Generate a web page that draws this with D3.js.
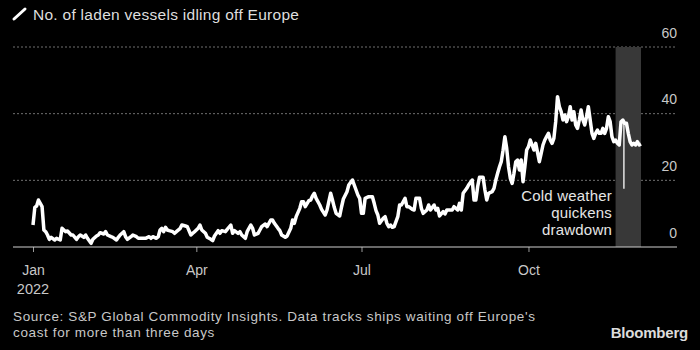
<!DOCTYPE html>
<html>
<head>
<meta charset="utf-8">
<script src="https://cdn.jsdelivr.net/npm/d3@7"></script>
<style>
  body { margin: 0; background: #000; }
  text { font-family: "Liberation Sans Narrow", "Liberation Sans", sans-serif; }
  .num { font-family: "Liberation Sans", Arial, sans-serif; }
</style>
</head>
<body>
<div id="chart"></div>
<script>
// laden lng vessels idling off europe

// days since jan 1 2022
var days = [0, 1, 2, 3, 5, 6, 7, 8, 9, 10, 12, 13, 15, 16, 17, 18, 19, 21, 22, 24, 25, 26, 28, 29, 30, 32, 33, 35, 36, 37, 39, 40, 41, 43, 44, 46, 47, 48, 50, 51, 52, 54, 55, 57, 58, 59, 61, 62, 64, 65, 66, 68, 69, 70, 71, 72, 73, 74, 75, 77, 78, 79, 81, 82, 84, 85, 87, 88, 89, 91, 92, 93, 95, 96, 98, 99, 100, 102, 103, 104, 106, 107, 109, 110, 111, 113, 114, 115, 117, 118, 120, 121, 122, 124, 125, 126, 128, 129, 131, 132, 133, 135, 136, 137, 139, 140, 142, 143, 144, 145, 147, 148, 149, 150, 152, 153, 154, 155, 156, 158, 159, 161, 162, 163, 164, 165, 166, 167, 169, 170, 171, 173, 174, 176, 177, 178, 179, 180, 181, 182, 183, 185, 187, 188, 189, 190, 191, 193, 194, 195, 196, 197, 198, 199, 201, 202, 203, 205, 206, 207, 209, 210, 211, 213, 214, 215, 217, 218, 219, 221, 222, 223, 224, 226, 227, 228, 230, 231, 232, 234, 235, 236, 237, 239, 240, 242, 243, 244, 245, 246, 248, 249, 250, 251, 253, 254, 255, 256, 257, 258, 259, 260, 261, 262, 263, 264, 265, 266, 267, 268, 269, 270, 271, 272, 273, 274, 275, 276, 277, 279, 280, 281, 282, 283, 284, 285, 286, 287, 288, 289, 290, 291, 292, 293, 294, 295, 296, 297, 298, 299, 300, 301, 302, 303, 304, 305, 306, 307, 308, 309, 310, 311, 312, 313, 314, 315, 316, 317, 318, 319, 320, 321, 322, 323, 324, 325, 326, 327, 328, 329, 330, 331, 332, 333, 334, 335];

// number of vessels
var vessels = [6.6, 11.9, 12.3, 14.1, 12.1, 5.1, 4.6, 3.6, 2.3, 2.9, 2.1, 2.6, 2.1, 5.6, 5.1, 4.6, 4.8, 3.6, 3.6, 2.3, 3.1, 3.6, 2.9, 3.6, 2.6, 1.1, 2.3, 3.3, 3.6, 4.3, 3.9, 4.6, 3.6, 3.1, 2.9, 2.1, 2.9, 3.6, 4.6, 3.1, 2.3, 3.1, 3.6, 3.1, 2.6, 2.6, 2.6, 2.6, 3.1, 2.6, 3.1, 2.6, 3.1, 5.1, 5.6, 4.6, 5.9, 5.1, 4.9, 4.6, 4.1, 4.6, 5.5, 6.6, 6.3, 6.1, 3.6, 4.1, 4.6, 5.6, 6.6, 5.1, 4.1, 2.9, 2.3, 1.9, 3.3, 4.9, 4.1, 4.9, 4.6, 5.3, 6.6, 4.1, 4.9, 4.1, 4.6, 3.6, 2.6, 4.6, 6.6, 5.6, 3.6, 4.1, 5.1, 6.1, 6.9, 6.1, 8.1, 8.1, 7.1, 5.6, 4.9, 3.6, 2.9, 3.3, 5.6, 8.1, 7.1, 9.1, 11.6, 13.6, 13.6, 12.1, 13.9, 14.1, 15.3, 16.1, 14.6, 12.6, 11.3, 9.6, 11.1, 13.6, 16.1, 14.1, 11.9, 10.1, 9.3, 12.0, 14.4, 16.6, 18.6, 20.1, 18.6, 17.1, 15.6, 14.6, 10.1, 10.1, 14.6, 15.1, 15.1, 13.1, 10.9, 9.6, 7.1, 8.6, 9.1, 7.1, 6.1, 6.6, 5.9, 6.1, 9.1, 12.6, 12.6, 14.6, 12.1, 12.1, 11.3, 11.1, 14.6, 14.6, 11.6, 10.1, 11.1, 12.6, 11.1, 12.6, 11.1, 11.6, 9.3, 10.6, 9.9, 11.1, 11.1, 11.1, 12.1, 11.1, 13.1, 11.1, 16.1, 17.6, 18.6, 20.1, 14.1, 14.1, 18.1, 20.9, 20.9, 17.1, 14.1, 16.1, 16.6, 17.6, 20.1, 22.1, 24.0, 25.6, 29.0, 33.1, 29.6, 24.1, 20.6, 19.1, 22.1, 25.6, 26.1, 23.1, 26.1, 19.6, 24.1, 29.1, 30.1, 32.1, 30.6, 29.1, 31.1, 25.6, 28.1, 30.6, 32.1, 33.1, 34.1, 32.1, 31.1, 32.6, 37.6, 45.1, 42.1, 40.6, 38.1, 39.6, 37.6, 39.1, 42.1, 38.1, 40.6, 36.6, 35.6, 38.1, 41.1, 38.1, 36.6, 39.1, 42.1, 38.1, 34.1, 32.6, 34.1, 35.1, 34.1, 34.1, 35.6, 34.1, 35.6, 39.1, 37.6, 33.1, 31.6, 32.1, 31.1, 30.6, 37.6, 38.1, 37.1, 37.1, 34.1, 31.6, 30.6, 31.1, 30.6, 31.6, 30.6, 30.9];

var yTicks = [0, 20, 40, 60];
var monthTicks = ["2022-01-01", "2022-04-01", "2022-07-01", "2022-10-01"];
var bandDates = ["2022-11-18", "2022-12-02"];
var noteDate = "2022-11-22T14:00";
var noteRange = [17.5, 37.6];
var noteLines = ["Cold weather", "quickens", "drawdown"];

var width = 700,
    height = 350;

var parse = d3.timeParse("%Y-%m-%d");
var start = parse("2022-01-01");

var data = days.map(function(d, i) {
    return { date: d3.timeDay.offset(start, d), value: vessels[i] };
});

var svg = d3.select("#chart").append("svg")
    .attr("width", width)
    .attr("height", height)
    .style("background", "#000");

var x = d3.scaleTime()
    .domain([start, parse("2022-12-02")])
    .range([33, 641]);

var y = d3.scaleLinear()
    .domain([0, 60])
    .range([247, 47]);

// title with the little slash
svg.append("line")
    .attr("x1", 14).attr("y1", 19)
    .attr("x2", 25).attr("y2", 9)
    .style("stroke", "#fff")
    .style("stroke-width", 3)
    .style("stroke-linecap", "round");

svg.append("text")
    .attr("x", 33)
    .attr("y", 20)
    .style("font-size", "15.5px")
    .style("letter-spacing", "0.28px")
    .style("fill", "#dedede")
    .text("No. of laden vessels idling off Europe");

// dotted gridlines
svg.append("g")
    .selectAll("line")
    .data(yTicks.filter(function(d) { return d > 0; }))
    .enter().append("line")
    .attr("x1", 13)
    .attr("x2", 677)
    .attr("y1", function(d) { return y(d); })
    .attr("y2", function(d) { return y(d); })
    .style("stroke", "#707070")
    .style("stroke-width", 1)
    .style("stroke-dasharray", "2,2");

// y labels sit on top of the gridlines
svg.append("g")
    .selectAll("text")
    .data(yTicks)
    .enter().append("text")
    .attr("class", "num")
    .attr("x", 677)
    .attr("y", function(d) { return y(d) - 9.5; })
    .attr("text-anchor", "end")
    .style("font-size", "14px")
    .style("fill", "#c8c8c8")
    .text(function(d) { return d; });

// shaded cold snap
svg.append("rect")
    .attr("x", x(parse(bandDates[0])))
    .attr("y", y(60))
    .attr("width", x(parse(bandDates[1])) - x(parse(bandDates[0])))
    .attr("height", y(0) - y(60))
    .style("fill", "#383838");

// x axis
var xAxis = d3.axisBottom(x)
    .tickValues(monthTicks.map(parse))
    .tickSize(5)
    .tickPadding(13)
    .tickFormat(d3.timeFormat("%b"));

var gx = svg.append("g")
    .attr("transform", "translate(0," + y(0) + ")")
    .call(xAxis);

gx.select(".domain").remove();
gx.selectAll(".tick line").style("stroke", "#9a9a9a");
gx.selectAll(".tick text")
    .attr("class", "num")
    .attr("font-family", null)
    .style("font-size", "14px")
    .style("fill", "#c8c8c8");

svg.append("line")
    .attr("x1", 13)
    .attr("x2", 677)
    .attr("y1", y(0))
    .attr("y2", y(0))
    .style("stroke", "#cfcfcf")
    .style("stroke-width", 1);

svg.append("text")
    .attr("class", "num")
    .attr("x", x(start))
    .attr("y", 294)
    .attr("text-anchor", "middle")
    .style("font-size", "14.5px")
    .style("fill", "#c8c8c8")
    .text("2022");

// the line
var line = d3.line()
    .x(function(d) { return x(d.date); })
    .y(function(d) { return y(d.value); });

svg.append("path")
    .datum(data)
    .attr("d", line)
    .style("fill", "none")
    .style("stroke", "#fff")
    .style("stroke-width", 3.5)
    .style("stroke-linejoin", "round");

// annotation
var nd = d3.isoParse(noteDate);
svg.append("line")
    .attr("x1", x(nd)).attr("x2", x(nd))
    .attr("y1", y(noteRange[1]))
    .attr("y2", y(noteRange[0]))
    .style("stroke", "#fff")
    .style("stroke-width", 1.3);

svg.append("g")
    .selectAll("text")
    .data(noteLines)
    .enter().append("text")
    .attr("x", 612)
    .attr("y", function(d, i) { return 200.5 + i * 17; })
    .attr("text-anchor", "end")
    .style("font-size", "15px")
    .style("letter-spacing", "0.2px")
    .style("fill", "#e6e6e6")
    .text(function(d) { return d; });

// footer
svg.append("text")
    .attr("x", 13)
    .attr("y", 321)
    .style("font-size", "13.5px")
    .style("letter-spacing", "0.63px")
    .style("fill", "#c8c8c8")
    .text("Source: S&P Global Commodity Insights. Data tracks ships waiting off Europe's");

svg.append("text")
    .attr("x", 13)
    .attr("y", 337)
    .style("font-size", "13.5px")
    .style("letter-spacing", "0.63px")
    .style("fill", "#c8c8c8")
    .text("coast for more than three days");

svg.append("text")
    .attr("x", 688)
    .attr("y", 338)
    .attr("text-anchor", "end")
    .style("font-family", "'Liberation Sans', Arial, sans-serif")
    .style("font-weight", "bold")
    .style("font-size", "15px")
    .style("letter-spacing", "-0.2px")
    .style("fill", "#dcdcdc")
    .text("Bloomberg");
</script>
</body>
</html>
